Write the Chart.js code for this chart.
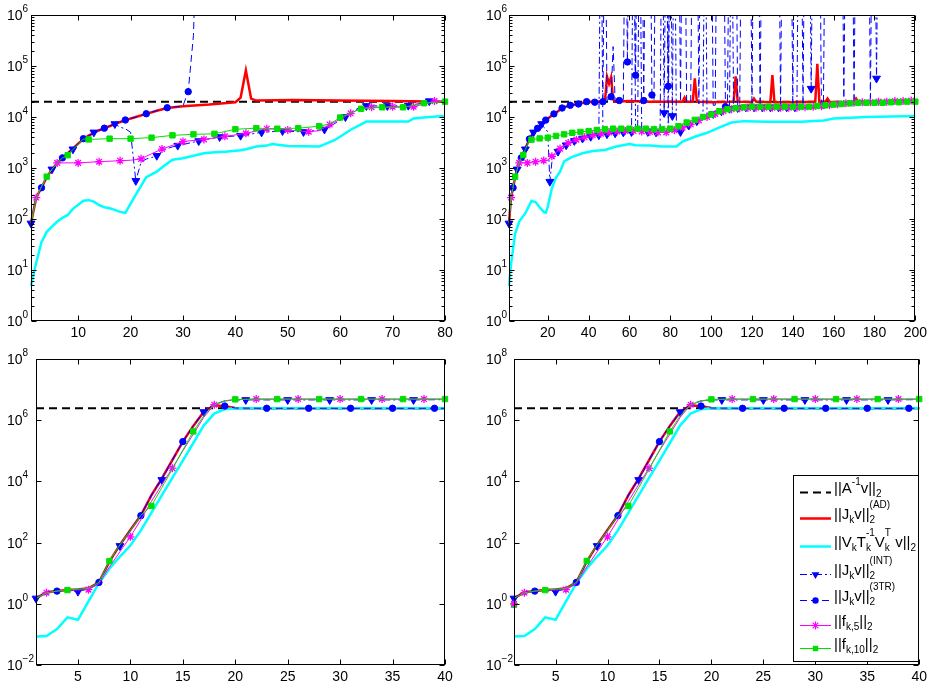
<!DOCTYPE html>
<html>
<head>
<meta charset="utf-8">
<script src="https://cdn.jsdelivr.net/npm/chart.js@4.4.0/dist/chart.umd.min.js"></script>
<style>
  html, body { margin: 0; padding: 0; background: #fff; }
  body { width: 931px; height: 688px; position: relative; overflow: hidden; }
  canvas { position: absolute; }
</style>
</head>
<body>
<canvas id="c1" width="465" height="344" style="left:0;top:0"></canvas>
<canvas id="c2" width="466" height="344" style="left:465px;top:0"></canvas>
<canvas id="c3" width="465" height="344" style="left:0;top:344px"></canvas>
<canvas id="c4" width="466" height="344" style="left:465px;top:344px"></canvas>
<script>
// tick labels
const topYTicks = [1, 10, 100, 1e3, 1e4, 1e5, 1e6];
const botYTicks = [1e-2, 1, 1e2, 1e4, 1e6, 1e8];

// ---- top left (80 iterations) ----
const tlRef = [[1, 2.0e4], [80, 2.0e4]];
const tlAD = [[1,83],[2,265],[3,410],[4,660],[5,930],[6,1250],[7,1580],[8,1950],[9,2400],[10,3000],[11,3700],[12,4300],[13,4900],[14,5500],[15,6000],[17,7300],[19,8700],[21,1.0e4],[23,1.15e4],[25,1.33e4],[27,1.5e4],[30,1.62e4],[35,1.75e4],[40,1.95e4],[41,2.4e4],[42,8.2e4],[43,2.3e4],[44,2.1e4],[51,2.15e4],[60,2.1e4],[70,2.05e4],[80,2.0e4]];
const tlVTV = [[1,4.9],[2,14],[3,35],[4,56],[5,71],[6,89],[7,105],[8,120],[9,158],[10,190],[11,229],[12,234],[13,219],[14,186],[15,170],[16,162],[17,151],[18,138],[19,132],[20,200],[21,302],[22,447],[23,660],[25,850],[27,1230],[28,1450],[30,1550],[32,1740],[34,1950],[36,2040],[38,2090],[41,2240],[42,2340],[44,2630],[46,2750],[47,2950],[50,2690],[56,2630],[59,3550],[61,4790],[62,5620],[65,8130],[73,8130],[74,9330],[77,1.0e4],[80,1.05e4]];
const tlINT = [[1,82],[2,265],[3,410],[4,660],[5,940],[6,1250],[7,1580],[8,1950],[9,2330],[10,3000],[11,3700],[12,4300],[13,5000],[14,5500],[15,6100],[16,6700],[17,7300],[18,6300],[19,5900],[20,5000],[21,560],[22,1300],[23,1500],[24,1600],[25,1740],[26,2100],[27,2400],[28,2600],[29,2750],[33,3380],[37,4060],[41,4300],[45,5000],[49,5320],[53,5100],[57,5700],[58,6500],[59,7500],[60,8700],[61,1.0e4],[62,1.2e4],[63,1.4e4],[64,1.6e4],[65,1.65e4],[69,1.65e4],[73,1.67e4],[76,1.9e4],[77,2.05e4],[80,1.95e4]];
const tl3TR = [[1,83],[2,265],[3,410],[4,660],[5,940],[6,1250],[7,1580],[9,2400],[11,3760],[13,4900],[15,6040],[17,7300],[19,8740],[21,1.0e4],[23,1.16e4],[25,1.33e4],[27,1.52e4],[29,1.6e4],[30,1.65e4],[31,3.14e4],[32,4.0e5],[33,1e9]];
const tlF5 = [[1,83],[2,263],[3,430],[4,680],[5,950],[6,1260],[10,1260],[14,1330],[18,1390],[20,1420],[22,1510],[23,1700],[24,1900],[26,2350],[30,3300],[34,3640],[38,4170],[42,4780],[46,5900],[50,5560],[54,5150],[56,5400],[58,7100],[60,9000],[62,1.18e4],[64,1.5e4],[66,1.55e4],[70,1.59e4],[74,1.59e4],[76,1.8e4],[78,2.05e4],[80,2.0e4]];
const tlF10 = [[1,83],[2,260],[3,430],[4,676],[5,940],[6,1250],[7,1580],[8,1780],[9,2300],[10,2900],[11,3700],[12,3630],[16,3760],[20,3760],[24,3940],[28,4370],[32,4570],[36,4680],[40,5750],[44,6030],[48,5890],[52,6030],[56,6600],[58,7300],[60,9770],[62,1.2e4],[64,1.45e4],[68,1.55e4],[72,1.55e4],[76,1.86e4],[80,2.0e4]];

// ---- top right (200 iterations) ----
const trRef = [[1, 2.0e4], [200, 2.0e4]];
const trAD = [[1,83],[2,265],[3,410],[4,660],[5,940],[6,1250],[7,1580],[8,1950],[9,2400],[10,3000],[11,3700],[12,4300],[13,4900],[14,5500],[15,6000],[17,7300],[19,8700],[21,1.0e4],[23,1.15e4],[25,1.3e4],[27,1.5e4],[29,1.6e4],[31,1.7e4],[35,1.8e4],[39,1.95e4],[43,2.0e4],[48,2.05e4],[49,6.2e4],[50,4.5e4],[51,6.0e4],[52,2.2e4],[53,2.0e4],[60,2.05e4],[70,2.0e4],[80,2.0e4],[86,2.0e4],[87,2.4e4],[88,2.0e4],[91,2.0e4],[92,5.7e4],[93,2.0e4],[100,1.95e4],[111,2.0e4],[112,6.3e4],[113,2.0e4],[120,1.95e4],[121,2.3e4],[122,2.0e4],[129,1.95e4],[130,6.6e4],[131,1.95e4],[140,1.95e4],[151,2.0e4],[152,1.1e5],[153,2.0e4],[156,2.0e4],[157,2.3e4],[158,2.0e4],[165,1.9e4],[170,1.95e4],[171,2.3e4],[172,2.0e4],[185,1.95e4],[200,2.0e4]];
const trVTV = [[1,4.9],[2,13],[4,52],[6,89],[9,130],[12,225],[14,215],[16,170],[18,138],[19,133],[20,175],[22,400],[24,650],[26,850],[28,1350],[32,1650],[37,1950],[42,2150],[48,2250],[53,2600],[60,2950],[63,2800],[70,2750],[76,2650],[83,2650],[86,3300],[92,4100],[98,4900],[105,6500],[110,7800],[116,8300],[128,8100],[144,8100],[155,8500],[160,9300],[176,1.0e4],[200,1.05e4]];
const trINT = [[1,82],[2,265],[3,410],[4,660],[5,940],[6,1250],[7,1580],[8,1950],[9,2330],[10,3000],[11,3700],[12,4300],[13,5000],[14,5500],[15,6100],[16,6700],[17,7300],[18,6300],[19,5900],[20,5000],[21,540],[22,1300],[23,1600],[25,2100],[29,2800],[33,3400],[37,3800],[41,4100],[45,4400],[46,1e9],[47,4500],[49,4600],[53,4800],[57,5000],[61,5100],[62,1e9],[63,5100],[64,5100],[65,1e9],[66,5100],[69,5100],[73,5000],[75,5000],[76,1e9],[77,1.2e4],[78,1e9],[79,5100],[80,1e9],[81,1.05e4],[82,1e9],[83,5200],[85,5100],[89,6800],[93,8300],[96,9500],[97,1e9],[98,1.0e4],[101,1.15e4],[105,1.3e4],[109,1.45e4],[110,1e9],[111,1.5e4],[113,1.5e4],[117,1.55e4],[121,1.55e4],[125,1.55e4],[129,1.55e4],[133,1.55e4],[137,1.55e4],[141,1.55e4],[142,1.55e4],[143,1e9],[148,1e9],[149,3.6e4],[150,1e9],[180,1e9],[181,5.7e4],[182,1e9],[200,1e9]];
const tr3TR = [[1,83],[2,265],[3,410],[5,940],[7,1580],[9,2400],[11,3700],[13,4900],[15,6000],[17,7300],[19,8700],[21,1.0e4],[23,1.15e4],[25,1.3e4],[27,1.5e4],[29,1.6e4],[31,1.7e4],[35,1.8e4],[39,2.0e4],[43,1.95e4],[47,2.0e4],[48,1e9],[49,2.1e4],[51,2.5e4],[52,2.4e5],[53,2.0e4],[55,2.1e4],[57,2.2e4],[58,1e9],[59,1.2e5],[60,1e9],[62,1e9],[63,6.6e4],[64,1e9],[66,1e9],[67,2.1e4],[68,1e9],[70,1e9],[71,2.7e4],[72,2.2e4],[73,1e9],[78,1e9],[79,4.0e4],[80,1e9],[84,1e9],[85,2.0e4],[86,1e9],[87,1e9],[88,2.0e4],[89,1.9e4],[90,2.0e4],[91,1e9],[93,1e9],[94,1.8e4],[95,1e9],[100,1e9],[101,1.7e4],[102,1.7e4],[103,1e9],[106,1e9],[107,1.6e4],[108,1.6e4],[109,1e9],[112,1e9],[113,1.6e4],[114,1.6e4],[115,1e9],[119,1e9],[120,1.6e4],[121,1e9],[123,1e9],[124,1.6e4],[125,1e9],[133,1e9],[134,1.6e4],[135,1e9],[139,1e9],[140,1.6e4],[141,1e9],[144,1e9],[145,1.65e4],[146,1e9],[153,1e9],[154,1.7e4],[155,1.7e4],[156,1e9],[164,1e9],[165,1.8e4],[166,1e9],[169,1e9],[170,1.85e4],[171,1e9],[177,1e9],[178,1.9e4],[179,1e9],[200,1e9]];
const trF5 = [[1,83],[2,263],[3,430],[4,680],[5,950],[6,1260],[10,1260],[14,1330],[18,1400],[20,1440],[22,1700],[26,2400],[30,3100],[34,3600],[38,4000],[42,4400],[46,4700],[50,5000],[54,5200],[58,5300],[62,5300],[66,5200],[70,5100],[74,5000],[78,5000],[82,5500],[86,6200],[90,7200],[94,8600],[98,1.0e4],[102,1.15e4],[106,1.3e4],[110,1.42e4],[114,1.48e4],[118,1.5e4],[122,1.52e4],[126,1.52e4],[130,1.52e4],[134,1.52e4],[138,1.52e4],[142,1.52e4],[146,1.55e4],[150,1.58e4],[154,1.62e4],[158,1.7e4],[162,1.78e4],[166,1.85e4],[170,1.9e4],[174,1.95e4],[178,1.95e4],[182,2.0e4],[186,2.0e4],[190,2.05e4],[194,2.05e4],[198,2.1e4],[200,2.1e4]];
const trF10 = [[1,83],[2,260],[3,430],[4,676],[5,940],[6,1250],[7,1580],[8,1800],[9,2300],[10,2900],[11,3600],[12,3600],[16,3800],[20,3940],[24,4270],[28,4570],[32,4900],[36,5100],[40,5300],[44,5560],[48,5750],[52,5900],[56,5900],[60,5900],[64,5900],[68,5900],[72,5800],[76,5800],[80,5900],[84,6600],[88,7800],[92,8800],[96,1.0e4],[100,1.12e4],[104,1.3e4],[108,1.42e4],[112,1.5e4],[116,1.55e4],[120,1.6e4],[124,1.6e4],[128,1.6e4],[132,1.6e4],[136,1.6e4],[140,1.6e4],[144,1.6e4],[148,1.6e4],[152,1.65e4],[156,1.7e4],[160,1.75e4],[164,1.8e4],[168,1.85e4],[172,1.9e4],[176,1.9e4],[180,1.9e4],[184,1.9e4],[188,1.95e4],[192,1.95e4],[196,2.0e4],[200,2.0e4]];

// ---- bottom (40 iterations, same in both panels) ----
const blRef = [[1, 2.45e6], [40, 2.45e6]];
const blAD = [[1,1.5],[2,2.4],[3,2.6],[4,2.8],[5,2.95],[6,3.2],[7,5.0],[8,24],[9,84],[10,260],[11,780],[12,3500],[13,1.26e4],[14,5.0e4],[15,2.0e5],[16,6.5e5],[17,1.9e6],[18,3.1e6],[19,2.85e6],[20,2.5e6],[21,2.45e6],[40,2.45e6]];
const blVTV = [[1,0.085],[2,0.089],[3,0.15],[4,0.36],[5,0.30],[6,1.2],[7,4.7],[8,14],[9,35],[10,80],[11,250],[12,930],[13,3500],[14,1.3e4],[15,4.8e4],[16,1.8e5],[17,6.8e5],[18,1.65e6],[19,2.3e6],[20,2.45e6],[40,2.45e6]];
const blINT = [[1,1.5],[2,2.4],[3,2.6],[4,2.7],[5,2.5],[6,3.1],[7,5.0],[8,24],[9,78],[10,260],[11,800],[12,3500],[13,1.12e4],[14,5.0e4],[15,2.0e5],[16,6.5e5],[17,1.85e6],[18,3.3e6],[19,4.3e6],[20,4.6e6],[21,4.6e6],[25,4.6e6],[29,4.6e6],[33,4.6e6],[37,4.6e6],[40,4.7e6]];
const bl3TR = [[1,1.5],[2,2.4],[3,2.6],[4,2.8],[5,2.95],[6,3.2],[7,5.0],[8,24],[9,84],[10,260],[11,760],[12,3500],[13,1.26e4],[14,5.0e4],[15,2.0e5],[16,6.5e5],[17,1.9e6],[18,3.0e6],[19,2.9e6],[20,2.5e6],[23,2.45e6],[27,2.45e6],[31,2.45e6],[35,2.45e6],[39,2.45e6],[40,2.45e6]];
const blF5 = [[1,1.5],[2,2.3],[3,2.6],[4,2.75],[5,2.85],[6,2.9],[7,4.5],[8,16],[9,50],[10,155],[11,560],[12,2200],[13,7900],[14,2.7e4],[15,1.0e5],[16,3.5e5],[17,1.25e6],[18,3.2e6],[19,4.2e6],[20,4.7e6],[22,4.9e6],[26,4.9e6],[30,4.9e6],[34,4.9e6],[38,4.9e6],[40,4.9e6]];
const blF10 = [[1,1.5],[2,2.3],[3,2.6],[4,2.8],[5,3.0],[6,3.2],[7,5.0],[8,25],[9,84],[10,250],[11,780],[12,1580],[13,6300],[14,2.5e4],[15,1.05e5],[16,4.3e5],[17,1.4e6],[18,3.2e6],[19,4.3e6],[20,4.8e6],[24,4.9e6],[28,4.9e6],[32,4.9e6],[36,4.9e6],[40,4.9e6]];
const brF5Start = [[1, 1.0]];
const brF10Start = [[1, 0.92]];

// legend text, split into normal / subscript / superscript pieces
const legendLabels = [
  [['||A'], ['-1', 'p'], ['v||'], ['2', 'b']],
  [['||J'], ['k', 'b'], ['v||'], ['2', 'b', '(AD)']],
  [['||V'], ['k', 'b'], ['T'], ['k', 'b', '-1'], ['V'], ['k', 'b', 'T'], [' v||'], ['2', 'b']],
  [['||J'], ['k', 'b'], ['v||'], ['2', 'b', '(INT)']],
  [['||J'], ['k', 'b'], ['v||'], ['2', 'b', '(3TR)']],
  [['||f'], ['k,5', 'b'], ['||'], ['2', 'b']],
  [['||f'], ['k,10', 'b'], ['||'], ['2', 'b']]
];
const legendKeys = ['ref', 'ad', 'vtv', 'int', 'tr3', 'f5', 'f10'];

const FONT = "'Liberation Sans', Arial, Helvetica, sans-serif";

// line styles; markers every 4th iteration, offset per series
const styles = {
  ref: { color: '#000000', width: 2, dash: [8, 5], order: 7 },
  ad:  { color: '#ff0000', width: 2.5, order: 6 },
  vtv: { color: '#00ffff', width: 2.5, order: 5 },
  int: { color: '#0000ff', width: 1, dash: [7, 3, 2, 3], marker: 'triangle', rot: 180, r: 4.5, offset: 1, order: 4 },
  tr3: { color: '#0000ff', width: 1, dash: [7, 4], marker: 'circle', r: 3.2, offset: 3, order: 3 },
  f5:  { color: '#ff00ff', width: 1, marker: 'star', r: 4, offset: 2, order: 2 },
  f10: { color: '#00e000', width: 1, marker: 'rect', r: 3.8, offset: 0, order: 1 }
};

function expText(v) {
  return String(Math.round(Math.log10(v))).replace('-', '\u2212');
}

function makeSet(points, key) {
  const st = styles[key];
  return {
    data: points.map(p => ({ x: p[0], y: p[1] })),
    borderColor: st.color,
    backgroundColor: st.color,
    borderWidth: st.width,
    borderDash: st.dash || [],
    pointStyle: st.marker || 'circle',
    pointRotation: st.rot || 0,
    pointBackgroundColor: st.color,
    pointBorderColor: st.color,
    pointBorderWidth: st.marker === 'star' ? 1.3 : 1,
    pointRadius: st.marker ? (c => (c.raw && c.raw.x % 4 === st.offset) ? st.r : 0) : 0,
    pointHoverRadius: 0,
    tension: 0,
    fill: false,
    order: st.order,
    clip: { left: 8, right: 8, top: 0, bottom: 8 }
  };
}

function startMarks(points, key) {
  const st = styles[key];
  return {
    data: points.map(p => ({ x: p[0], y: p[1] })),
    showLine: false,
    pointStyle: st.marker,
    pointBackgroundColor: st.color,
    pointBorderColor: st.color,
    pointBorderWidth: st.marker === 'star' ? 1.3 : 1,
    pointRadius: st.r,
    order: 0,
    clip: { left: 8, right: 8, top: 0, bottom: 8 }
  };
}

// box, inward ticks, log minor ticks and 10^n labels (matlab look)
const axesBox = {
  id: 'axesBox',
  afterDraw(chart, args, opts) {
    const { ctx, chartArea: a, scales } = chart;
    const L = Math.round(a.left) + 0.5, R = Math.round(a.right) - 0.5;
    const T = Math.round(a.top) + 0.5, B = Math.round(a.bottom) - 0.5;
    ctx.save();
    ctx.strokeStyle = '#000';
    ctx.lineWidth = 1;
    ctx.setLineDash([]);
    ctx.strokeRect(L, T, R - L, B - T);
    ctx.beginPath();
    scales.x.ticks.forEach(t => {
      const px = Math.round(scales.x.getPixelForValue(t.value)) + 0.5;
      ctx.moveTo(px, B); ctx.lineTo(px, B - 5);
      ctx.moveTo(px, T); ctx.lineTo(px, T + 5);
    });
    scales.y.ticks.forEach(t => {
      const py = Math.round(scales.y.getPixelForValue(t.value)) + 0.5;
      ctx.moveTo(L, py); ctx.lineTo(L + 5, py);
      ctx.moveTo(R, py); ctx.lineTo(R - 5, py);
    });
    if (opts.minor) {
      for (let e = 0; e < 6; e++) {
        for (let m = 2; m < 10; m++) {
          const py = Math.round(scales.y.getPixelForValue(m * Math.pow(10, e))) + 0.5;
          ctx.moveTo(L, py); ctx.lineTo(L + 3, py);
          ctx.moveTo(R, py); ctx.lineTo(R - 3, py);
        }
      }
    }
    ctx.stroke();
    // y tick labels: base "10" with raised exponent
    ctx.fillStyle = '#000';
    ctx.textAlign = 'left';
    ctx.textBaseline = 'alphabetic';
    scales.y.ticks.forEach(t => {
      const py = scales.y.getPixelForValue(t.value);
      ctx.font = '14px ' + FONT;
      ctx.fillText('10', opts.labelX, py + 5);
      const w = ctx.measureText('10').width;
      ctx.font = '10px ' + FONT;
      ctx.fillText(expText(t.value), opts.labelX + w, py - 3);
    });
    ctx.restore();
  }
};

function drawMarker(ctx, st, x, y) {
  const r = st.r;
  ctx.fillStyle = st.color;
  ctx.strokeStyle = st.color;
  ctx.lineWidth = 1.2;
  ctx.setLineDash([]);
  ctx.beginPath();
  if (st.marker === 'circle') {
    ctx.arc(x, y, r, 0, Math.PI * 2);
    ctx.fill();
  } else if (st.marker === 'triangle') {
    ctx.moveTo(x, y + r);
    ctx.lineTo(x - r * 0.87, y - r * 0.5);
    ctx.lineTo(x + r * 0.87, y - r * 0.5);
    ctx.closePath();
    ctx.fill();
  } else if (st.marker === 'rect') {
    const s = r * Math.SQRT1_2;
    ctx.rect(x - s, y - s, 2 * s, 2 * s);
    ctx.fill();
  } else if (st.marker === 'star') {
    const d = r * Math.SQRT1_2;
    ctx.moveTo(x - r, y); ctx.lineTo(x + r, y);
    ctx.moveTo(x, y - r); ctx.lineTo(x, y + r);
    ctx.moveTo(x - d, y - d); ctx.lineTo(x + d, y + d);
    ctx.moveTo(x - d, y + d); ctx.lineTo(x + d, y - d);
    ctx.stroke();
  }
}

function drawRich(ctx, segs, x, y) {
  const big = '15px ' + FONT, small = '10px ' + FONT;
  segs.forEach(([t, kind, sup]) => {
    if (!kind) {
      ctx.font = big;
      ctx.fillText(t, x, y);
      x += ctx.measureText(t).width;
    } else if (kind === 'p') {
      ctx.font = small;
      ctx.fillText(t, x, y - 8);
      x += ctx.measureText(t).width;
    } else {
      ctx.font = small;
      ctx.fillText(t, x, y + 4);
      let w = ctx.measureText(t).width;
      if (sup) {
        ctx.fillText(sup, x, y - 11);
        w = Math.max(w, ctx.measureText(sup).width);
      }
      x += w;
    }
  });
}

const legendBox = {
  id: 'legendBox',
  afterDraw(chart) {
    const ctx = chart.ctx;
    const rows = [148, 174, 202, 230, 256, 281, 304];
    ctx.save();
    ctx.fillStyle = '#fff';
    ctx.fillRect(328, 131, 125, 186);
    ctx.strokeStyle = '#000';
    ctx.lineWidth = 1;
    ctx.setLineDash([]);
    ctx.strokeRect(328.5, 131.5, 125, 186);
    legendKeys.forEach((key, i) => {
      const st = styles[key], y = rows[i];
      ctx.strokeStyle = st.color;
      ctx.lineWidth = st.width;
      ctx.setLineDash(st.dash || []);
      ctx.beginPath();
      ctx.moveTo(335, y + 0.5);
      ctx.lineTo(366, y + 0.5);
      ctx.stroke();
      if (st.marker) drawMarker(ctx, st, 350.5, y + 0.5);
      ctx.fillStyle = '#000';
      ctx.textBaseline = 'alphabetic';
      ctx.textAlign = 'left';
      drawRich(ctx, legendLabels[i], 369, y + 1);
    });
    ctx.restore();
  }
};

const panels = [
  { id: 'c1', pad: { left: 7, top: 15, right: 20, bottom: 0 }, yWidth: 24, xMax: 80, xStep: 10,
    yMin: 1, yMax: 1e6, yTicks: topYTicks, minor: true,
    series: { ref: tlRef, ad: tlAD, vtv: tlVTV, int: tlINT, tr3: tl3TR, f5: tlF5, f10: tlF10 } },
  { id: 'c2', pad: { left: 21, top: 15, right: 12, bottom: 0 }, yWidth: 23, xMax: 200, xStep: 20,
    yMin: 1, yMax: 1e6, yTicks: topYTicks, minor: true,
    series: { ref: trRef, ad: trAD, vtv: trVTV, int: trINT, tr3: tr3TR, f5: trF5, f10: trF10 } },
  { id: 'c3', pad: { left: 7, top: 15, right: 20, bottom: 0 }, yWidth: 29, xMax: 40, xStep: 5,
    yMin: 1e-2, yMax: 1e8, yTicks: botYTicks, minor: false,
    series: { ref: blRef, ad: blAD, vtv: blVTV, int: blINT, tr3: bl3TR, f5: blF5, f10: blF10 } },
  { id: 'c4', pad: { left: 21, top: 15, right: 8, bottom: 0 }, yWidth: 28, xMax: 40, xStep: 5,
    yMin: 1e-2, yMax: 1e8, yTicks: botYTicks, minor: false, legend: true,
    series: { ref: blRef, ad: blAD, vtv: blVTV, int: blINT, tr3: bl3TR, f5: blF5, f10: blF10 },
    starts: { f5: brF5Start, f10: brF10Start } }
];

panels.forEach(p => {
  const datasets = Object.keys(p.series).map(k => makeSet(p.series[k], k));
  if (p.starts) Object.keys(p.starts).forEach(k => datasets.push(startMarks(p.starts[k], k)));
  const tickFont = { family: FONT, size: 14 };
  new Chart(document.getElementById(p.id), {
    type: 'line',
    data: { datasets },
    plugins: p.legend ? [axesBox, legendBox] : [axesBox],
    options: {
      responsive: false,
      maintainAspectRatio: false,
      animation: false,
      events: [],
      layout: { padding: p.pad },
      plugins: {
        legend: { display: false },
        tooltip: { enabled: false },
        axesBox: { minor: p.minor, labelX: p.pad.left }
      },
      scales: {
        x: {
          type: 'linear', min: 1, max: p.xMax,
          grid: { display: false, drawTicks: false },
          border: { display: false },
          ticks: { stepSize: p.xStep, includeBounds: false, padding: 4, color: '#000',
                   font: tickFont, maxRotation: 0, autoSkip: false },
          afterFit: s => { s.height = 23; }
        },
        y: {
          type: 'logarithmic', min: p.yMin, max: p.yMax,
          grid: { display: false, drawTicks: false },
          border: { display: false },
          ticks: { display: false },
          afterBuildTicks: s => { s.ticks = p.yTicks.map(v => ({ value: v })); },
          afterFit: s => { s.width = p.yWidth; }
        }
      }
    }
  });
});
</script>
</body>
</html>
